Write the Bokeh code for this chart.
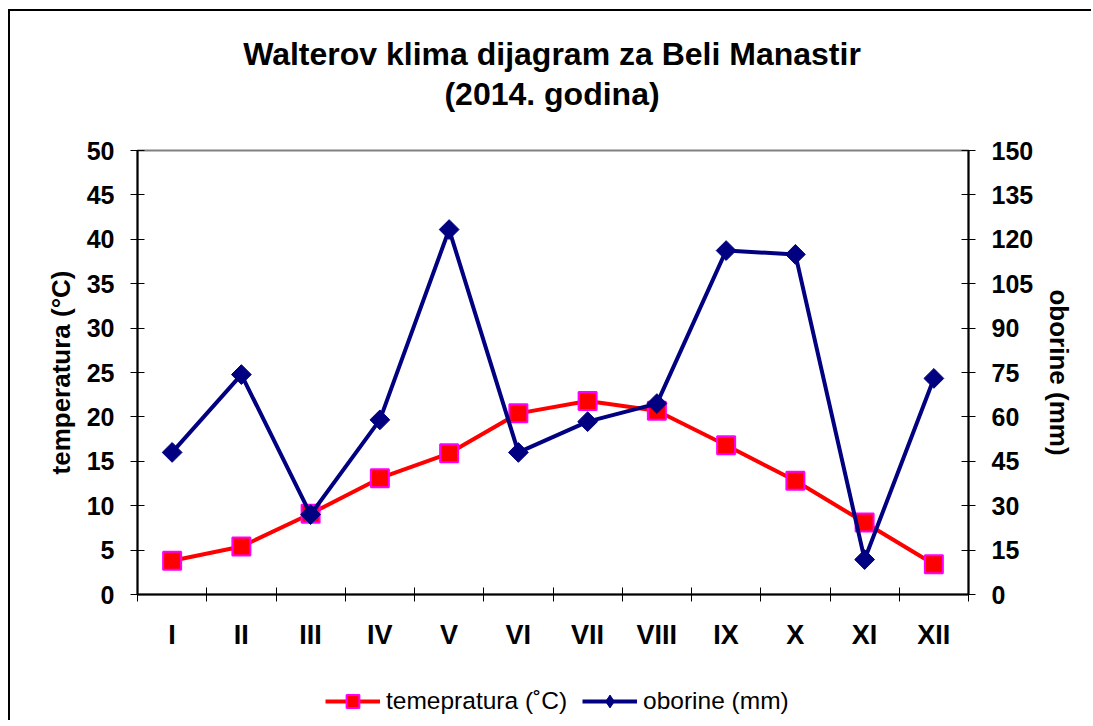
from bokeh.plotting import figure
from bokeh.layouts import column
from bokeh.models import (Range1d, LinearAxis, FixedTicker, Legend, LegendItem, Label)
from bokeh.embed import file_html
from bokeh.resources import INLINE

months = ["I", "II", "III", "IV", "V", "VI", "VII", "VIII", "IX", "X", "XI", "XII"]
temperature = [3.8, 5.4, 9.1, 13.1, 15.9, 20.4, 21.8, 20.7, 16.8, 12.8, 8.1, 3.4]
precipitation = [48.0, 74.3, 27.0, 59.0, 123.3, 48.0, 58.4, 64.5, 116.2, 114.9, 11.8, 73.0]
temp_ticks = list(range(0, 51, 5))
prec_ticks = list(range(0, 151, 15))
series_names = ["temepratura (˚C)", "oborine (mm)"]
title_lines = ["Walterov klima dijagram za Beli Manastir", "(2014. godina)"]

FONT = "Liberation Sans"
RED, MAGENTA, NAVY = "#FF0000", "#FF00FF", "#000080"
W = 1081

xs = [i + 0.5 for i in range(len(months))]


def blank_strip(height):
    f = figure(width=W, height=height, x_range=Range1d(0, 1), y_range=Range1d(0, 1),
               output_backend="svg", toolbar_location=None,
               x_axis_location=None, y_axis_location=None,
               min_border_left=0, min_border_right=0, min_border_top=0, min_border_bottom=0)
    f.xgrid.visible = False
    f.ygrid.visible = False
    f.outline_line_color = None
    f.background_fill_color = "white"
    f.border_fill_color = "white"
    return f


# title strip
hd = blank_strip(124)
for line, ypos in zip(title_lines, [82, 42]):
    hd.add_layout(Label(x=0.5, y=ypos, y_units="screen", text=line, text_align="center",
                        text_baseline="middle", text_font=FONT, text_font_size="32px",
                        text_font_style="bold", text_color="black", x_offset=-1))

# main chart
p = figure(width=W, height=525, x_range=Range1d(0, len(months)), y_range=Range1d(0, 50),
           output_backend="svg", toolbar_location=None,
           min_border_left=127, min_border_right=W + 10 - 968, min_border_top=15, min_border_bottom=66)
p.extra_y_ranges = {"prec": Range1d(0, 150)}

p.xgrid.visible = False
p.ygrid.visible = False
p.outline_line_color = "#808080"
p.outline_line_width = 2
p.background_fill_color = "white"
p.border_fill_color = "white"

# x axis
xa = p.xaxis[0]
xa.ticker = FixedTicker(ticks=xs, minor_ticks=list(range(len(months) + 1)))
xa.major_label_overrides = {x: m for x, m in zip(xs, months)}
xa.major_tick_in = 0
xa.major_tick_out = 0
xa.minor_tick_in = 7
xa.minor_tick_out = 7
xa.minor_tick_line_color = "black"
xa.axis_line_color = "black"
xa.axis_line_width = 2
xa.major_label_text_font = FONT
xa.major_label_text_font_size = "27px"
xa.major_label_text_font_style = "bold"
xa.major_label_text_color = "black"
xa.major_label_standoff = 18


def style_y(ax, label):
    ax.minor_tick_line_color = None
    ax.major_tick_in = 7
    ax.major_tick_out = 7
    ax.axis_line_color = "black"
    ax.axis_line_width = 2
    ax.major_label_text_font = FONT
    ax.major_label_text_font_size = "25px"
    ax.major_label_text_font_style = "bold"
    ax.major_label_text_color = "black"
    ax.major_label_standoff = 16
    ax.axis_label = label
    ax.axis_label_text_font = FONT
    ax.axis_label_text_font_size = "26px"
    ax.axis_label_text_font_style = "bold"
    ax.axis_label_text_color = "black"
    ax.axis_label_standoff = 8


ya = p.yaxis[0]
ya.ticker = FixedTicker(ticks=temp_ticks)
style_y(ya, "temperatura (°C)")

ra = LinearAxis(y_range_name="prec", ticker=FixedTicker(ticks=prec_ticks))
style_y(ra, "oborine (mm)")
p.add_layout(ra, "right")

# series
p.line(xs, temperature, line_color=RED, line_width=4)
p.scatter(xs, temperature, marker="square", size=18, fill_color=RED,
          line_color=MAGENTA, line_width=2)
p.line(xs, precipitation, line_color=NAVY, line_width=4, y_range_name="prec")
p.scatter(xs, precipitation, marker="square", angle=0.785398, size=14, fill_color=NAVY,
          line_color=NAVY, line_width=1, y_range_name="prec")

# legend strip below the chart (its glyphs lie outside its own ranges, only the legend shows)
lg = blank_strip(60)
l1 = lg.line(xs, temperature, line_color=RED, line_width=4)
s1 = lg.scatter(xs, temperature, marker="square", size=13, fill_color=RED,
                line_color=MAGENTA, line_width=2)
l2 = lg.line(xs, precipitation, line_color=NAVY, line_width=4)
s2 = lg.scatter(xs, precipitation, marker="diamond", size=16, fill_color=NAVY,
                line_color=NAVY, line_width=1)
legend = Legend(items=[LegendItem(label=series_names[0], renderers=[l1, s1]),
                       LegendItem(label=series_names[1], renderers=[l2, s2])],
                orientation="horizontal", location=(188, 3),
                glyph_width=55, glyph_height=32, label_standoff=6, spacing=15,
                label_text_font=FONT, label_text_font_size="24.5px", label_text_color="black",
                border_line_color=None, background_fill_alpha=0, margin=0, padding=0)
lg.add_layout(legend, "center")

layout = column(hd, p, lg, spacing=0,
                styles={"border-left": "2px solid black", "border-top": "2px solid black",
                        "border-right": "none", "border-bottom": "none",
                        "margin-left": "8px", "margin-top": "9px"})

open("out.html", "w").write(file_html(layout, INLINE))
